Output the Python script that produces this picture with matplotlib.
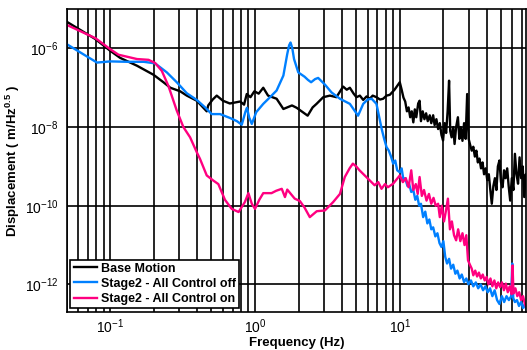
import numpy as np
import matplotlib
matplotlib.use("Agg")
import matplotlib.pyplot as plt
from matplotlib.ticker import FixedLocator, LogFormatterSciNotation, NullLocator

plt.rcParams['font.family'] = ['Liberation Sans', 'DejaVu Sans']
plt.rcParams['mathtext.fontset'] = 'custom'
plt.rcParams['mathtext.rm'] = 'Liberation Sans'
plt.rcParams['mathtext.bf'] = 'Liberation Sans:bold'

# values as (frequency in Hz, log10 of displacement)
base_f = [0.05, 0.0788, 0.1, 0.117, 0.153, 0.199, 0.233, 0.26, 0.304, 0.338, 0.396, 0.464,
          0.475, 0.51, 0.544, 0.6, 0.67, 0.79, 0.84, 0.877, 0.93, 0.99, 1.06, 1.14, 1.23,
          1.41, 1.57, 1.67, 1.8, 1.94, 2.1, 2.31, 2.5, 2.66, 2.96, 3.29, 3.65, 4.06, 4.3,
          4.52, 4.8, 5.02, 5.3, 5.59, 5.9, 6.2, 6.5, 6.9, 7.3, 7.67, 8.1, 8.53, 9.2,
          10.0, 10.3, 10.6, 10.9, 11.2, 11.5, 11.8, 12.1, 12.4, 12.7, 13.0, 13.4, 13.7,
          14.0, 14.4, 14.8, 15.2, 15.6, 16.1, 16.5, 17.0, 17.4, 17.9, 18.4, 18.9, 19.4,
          19.9, 20.4, 20.9, 21.4, 21.9, 22.3, 22.8, 23.4, 23.9, 24.5, 25.2, 25.8, 26.4,
          27.1, 27.8, 28.5, 29.2, 29.9, 30.6, 31.4, 32.2, 33.0, 33.8, 34.6, 35.5, 36.4,
          37.3, 38.2, 39.2, 40.2, 41.2, 42.2, 43.2, 44.3, 45.4, 46.5, 47.6, 48.8, 50.0,
          51.3, 52.5, 53.8, 55.2, 56.5, 57.9, 59.4, 60.9, 62.4, 64.0, 65.6, 67.2, 68.9,
          70.6, 72.4, 74.2, 75.0]
base_log = [-5.32, -5.76, -6.06, -6.24, -6.44, -6.67, -6.86, -7.0, -7.09, -7.2, -7.33, -7.6,
            -7.45, -7.3, -7.2, -7.33, -7.40, -7.35, -7.43, -7.16, -7.24, -7.09, -7.15, -7.0, -7.2,
            -7.28, -7.54, -7.5, -7.45, -7.51, -7.6, -7.71, -7.5, -7.41, -7.24, -7.2, -7.24, -6.97, -7.05,
            -7.0, -7.15, -7.24, -7.2, -7.31, -7.22, -7.28, -7.2, -7.24, -7.3, -7.28, -7.2, -7.18, -7.05,
            -6.86, -7.05, -7.25, -7.35, -7.6, -7.5, -7.75, -7.6, -7.88, -7.55, -7.75, -7.4, -7.33,
            -7.85, -7.6, -7.8, -7.65, -7.85, -7.7, -7.9, -7.7, -7.95, -7.8, -8.05, -7.9, -8.2,
            -8.34, -7.9, -8.15, -7.6, -6.82, -8.1, -8.26, -8.0, -8.43, -8.0, -7.75, -8.3, -8.0,
            -8.35, -7.9, -8.3, -7.16, -8.3, -8.45, -8.6, -8.5, -8.75, -8.6, -8.9, -8.8, -9.05,
            -8.9, -9.2, -9.05, -9.35, -9.2, -9.6, -9.95, -9.5, -9.3, -9.6, -9.0, -8.85, -9.4,
            -9.53, -9.1, -9.3, -9.05, -9.5, -9.87, -9.3, -9.6, -8.68, -9.2, -9.44, -8.77, -9.3,
            -9.0, -9.78, -9.2, -9.5]

off_f = [0.05, 0.062, 0.081, 0.1, 0.13, 0.17, 0.204, 0.246, 0.288, 0.338, 0.396, 0.452,
         0.502, 0.574, 0.673, 0.75, 0.81, 0.86, 0.88, 0.91, 0.95, 1.02, 1.14, 1.27, 1.41,
         1.57, 1.67, 1.72, 1.76, 1.81, 1.86, 1.99, 2.2, 2.32, 2.44, 2.6, 2.73, 3.04, 3.38,
         3.86, 4.52, 5.15, 5.59, 6.0, 6.39, 6.9, 7.5, 7.8, 8.1, 8.4, 8.7, 9.0, 9.3, 9.6,
         10.0, 10.3, 10.6, 10.9, 11.3, 11.6, 12.0, 12.4, 12.8, 13.2, 13.6, 14.0, 14.5,
         15.0, 15.5, 16.0, 16.5, 17.0, 17.6, 18.2, 18.8, 19.4, 20.0, 20.6, 21.2, 21.9,
         22.6, 23.4, 24.2, 25.0, 25.9, 26.8, 27.8, 28.8, 29.8, 31.0, 32.2, 33.5, 34.8,
         36.2, 37.6, 39.0, 40.5, 42.0, 43.6, 45.2, 47.0, 48.8, 50.7, 52.6, 54.6, 56.7,
         58.8, 59.8, 60.8, 62.4, 64.5, 66.6, 68.8, 71.0, 73.0, 75.0]
off_log = [-5.89, -6.10, -6.36, -6.33, -6.34, -6.34, -6.38, -6.61, -6.86, -7.14, -7.31, -7.50,
           -7.67, -7.67, -7.77, -7.85, -7.94, -7.6, -7.51, -7.75, -7.92, -7.62, -7.41, -7.24, -7.07,
           -6.69, -6.14, -5.92, -5.85, -6.0, -6.27, -6.61, -6.72, -6.8, -6.86, -6.78, -6.75, -6.92, -7.12,
           -7.28, -7.41, -7.71, -7.41, -7.3, -7.28, -7.41, -8.05, -8.3, -8.51, -8.6, -8.75, -8.93, -8.85, -9.1,
           -9.15, -9.05, -9.35, -9.3, -9.5, -9.45, -9.65, -9.6, -9.85, -9.75, -10.0, -9.95, -10.29,
           -10.15, -10.45, -10.35, -10.6, -10.55, -10.78, -10.7, -10.95, -11.05, -10.9, -11.3, -11.47, -11.35,
           -11.6, -11.5, -11.73, -11.65, -11.85, -11.75, -11.94, -11.85, -12.0, -11.9, -12.05, -11.95, -12.1,
           -12.0, -12.15, -12.05, -12.2, -12.1, -12.3, -12.15, -12.4, -12.5, -12.3, -12.45, -12.3, -12.4,
           -12.3, -11.47, -12.35, -12.45, -12.4, -12.55, -12.45, -12.6, -12.5, -12.66]

on_f = [0.05, 0.079, 0.1, 0.114, 0.153, 0.184, 0.204, 0.227, 0.252, 0.288, 0.32, 0.356,
        0.396, 0.417, 0.464, 0.515, 0.558, 0.62, 0.69, 0.77, 0.85, 0.90, 0.95, 1.0, 1.07,
        1.14, 1.3, 1.4, 1.53, 1.61, 1.67, 1.88, 2.04, 2.2, 2.39, 2.67, 3.04, 3.46, 3.86,
        4.17, 4.5, 4.74, 5.0, 5.27, 5.87, 6.7, 7.1, 7.48, 7.9, 8.28, 9.0, 10.0, 10.5, 11.0,
        11.5, 12.0, 12.4, 12.9, 13.3, 13.7, 14.2, 14.7, 15.3, 15.9, 16.5, 17.1, 17.7, 18.4,
        18.9, 19.5, 20.2, 20.9, 21.5, 22.2, 22.9, 23.7, 24.5, 25.3, 26.2, 27.1, 28.0, 28.8,
        29.6, 30.5, 31.4, 32.2, 33.2, 34.2, 35.2, 36.3, 37.4, 38.6, 39.8, 41.0, 42.3, 43.6,
        45.0, 46.4, 47.8, 49.3, 50.8, 52.4, 54.0, 55.7, 57.4, 59.2, 60.1, 61.0, 62.9, 64.8,
        66.8, 68.9, 71.0, 73.2, 75.0]
on_log = [-5.40, -5.74, -6.02, -6.16, -6.27, -6.29, -6.37, -6.57, -6.95, -7.58, -8.0, -8.26,
          -8.64, -8.81, -9.23, -9.36, -9.45, -9.85, -10.08, -10.16, -9.91, -9.68, -9.95, -10.08, -9.85,
          -9.68, -9.68, -9.62, -9.57, -9.78, -9.59, -9.82, -9.88, -10.05, -10.29, -10.14, -10.12, -9.91, -9.70,
          -9.27, -9.05, -8.93, -9.0, -9.10, -9.27, -9.48, -9.4, -9.57, -9.45, -9.53, -9.44, -9.23, -9.4, -9.3,
          -9.53, -9.10, -9.6, -9.45, -9.7, -9.27, -9.75, -9.6, -9.87, -9.7, -9.95, -9.8, -10.0, -9.95,
          -10.29, -10.0, -10.4, -10.1, -9.82, -10.6, -10.4, -10.75, -10.88, -10.6, -10.9, -10.7, -11.0, -10.75,
          -11.39, -11.5, -11.6, -11.77, -11.65, -11.8, -11.7, -11.85, -11.75, -11.9, -11.81, -12.0, -11.85, -12.05,
          -11.9, -12.1, -11.95, -12.07, -11.95, -12.15, -11.98, -12.2, -12.05, -12.25, -11.52, -12.23, -12.1, -12.3,
          -12.2, -12.4, -12.3, -12.5, -12.6]

fig = plt.figure(figsize=(5.27, 3.5), dpi=100)
ax = fig.add_axes([0.1265, 0.109, 0.8725, 0.865])

ax.plot(base_f, 10.0 ** np.array(base_log), color='black', lw=1.7, label='Base Motion')
ax.plot(off_f, 10.0 ** np.array(off_log), color='#0080ff', lw=1.7, label='Stage2 - All Control off')
ax.plot(on_f, 10.0 ** np.array(on_log), color='#ff0080', lw=1.7, label='Stage2 - All Control on')

ax.set_xscale('log')
ax.set_yscale('log')
ax.set_xlim(0.05, 75)
ax.set_ylim(2e-13, 1e-5)

ax.yaxis.set_major_locator(FixedLocator([1e-12, 1e-10, 1e-8, 1e-6]))
ax.yaxis.set_major_formatter(LogFormatterSciNotation())
ax.yaxis.set_minor_locator(NullLocator())

ax.grid(True, which='major', color='black', lw=1.2)
ax.grid(True, which='minor', axis='x', color='black', lw=1.2)
ax.tick_params(which='both', length=0, labelsize=10)
ax.tick_params(axis='y', pad=6)
ax.tick_params(axis='x', pad=4)
for s in ax.spines.values():
    s.set_linewidth(1.2)

ax.set_xlabel('Frequency (Hz)', fontsize=9.5, fontweight='bold', labelpad=1)
ax.set_ylabel(r'Displacement ( m/Hz$^{\mathbf{0.5}}$ )', fontsize=9.5, fontweight='bold', labelpad=2)

leg = ax.legend(loc='lower left', fancybox=False, framealpha=1, edgecolor='black',
                prop={'weight': 'bold', 'size': 9}, handlelength=1.9, handletextpad=0.3,
                labelspacing=0.25, borderpad=0.25, borderaxespad=0.3)
leg.get_frame().set_linewidth(1.2)

fig.savefig('out.png', dpi=100)
